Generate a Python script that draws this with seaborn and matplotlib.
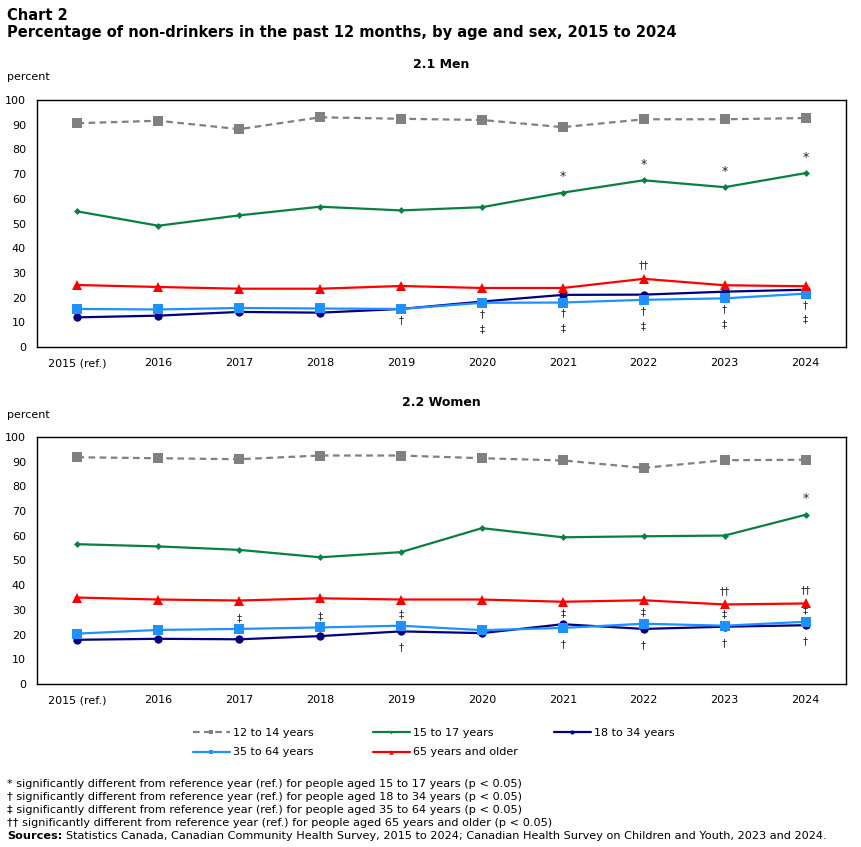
import numpy as np
import pandas as pd
import seaborn as sns
import matplotlib.pyplot as plt

# Years and tick labels
years = [2015, 2016, 2017, 2018, 2019, 2020, 2021, 2022, 2023, 2024]
year_labels = ["2015 (ref.)", "2016", "2017", "2018", "2019",
               "2020", "2021", "2022", "2023", "2024"]
series_names = ["12 to 14 years", "15 to 17 years", "18 to 34 years",
                "35 to 64 years", "65 years and older"]

# 2.1 Men (percent)
men_12_14 = [90.6, 91.6, 88.2, 93.0, 92.4, 91.9, 89.0, 92.2, 92.2, 92.7]
men_15_17 = [54.9, 49.1, 53.3, 56.8, 55.3, 56.6, 62.5, 67.5, 64.7, 70.4]
men_18_34 = [12.0, 12.7, 14.2, 13.9, 15.4, 18.4, 21.1, 21.2, 22.4, 23.2]
men_35_64 = [15.4, 15.2, 15.8, 15.6, 15.4, 17.9, 18.0, 19.1, 19.7, 21.6]
men_65_up = [25.1, 24.3, 23.6, 23.6, 24.7, 23.9, 23.9, 27.6, 25.0, 24.6]

# 2.2 Women (percent)
women_12_14 = [91.8, 91.4, 91.0, 92.5, 92.5, 91.4, 90.5, 87.5, 90.6, 90.8]
women_15_17 = [56.6, 55.7, 54.3, 51.3, 53.4, 63.1, 59.4, 59.8, 60.1, 68.5]
women_18_34 = [17.9, 18.3, 18.1, 19.4, 21.3, 20.6, 24.2, 22.3, 23.2, 23.8]
women_35_64 = [20.4, 21.9, 22.3, 22.9, 23.6, 21.8, 22.7, 24.4, 23.6, 25.2]
women_65_up = [35.0, 34.2, 33.8, 34.7, 34.2, 34.2, 33.3, 33.9, 32.2, 32.6]

# significance flags (years)
men_star = [2021, 2022, 2023, 2024]
men_dagger = [2019, 2020, 2021, 2022, 2023, 2024]
men_ddagger = [2020, 2021, 2022, 2023, 2024]
men_double = [2022]
women_star = [2024]
women_dagger = [2019, 2021, 2022, 2023, 2024]
women_ddagger = [2017, 2018, 2019, 2021, 2022, 2023, 2024]
women_double = [2023, 2024]

styles = {
    "12 to 14 years": dict(color="#808080", marker="s", markersize=6.5, linestyle=(0, (3, 2))),
    "15 to 17 years": dict(color="#0A8040", marker="D", markersize=3.5, linestyle="-"),
    "18 to 34 years": dict(color="#000080", marker="o", markersize=6, linestyle="-"),
    "35 to 64 years": dict(color="#1E90FF", marker="s", markersize=6.5, linestyle="-"),
    "65 years and older": dict(color="#FF0000", marker="^", markersize=6.5, linestyle="-"),
}

sns.set_style("white")
plt.rcParams["font.family"] = ["DejaVu Sans"]
plt.rcParams["text.color"] = "black"

W, H = 862, 847
fig = plt.figure(figsize=(W / 100, H / 100), dpi=100)


def fx(px):
    return px / W


def fy(py):
    return 1 - py / H


def draw_panel(ax, data, star, dagger, ddagger, double, dag_off, ddag_off):
    df = pd.DataFrame(data, index=years)
    for name in series_names:
        sns.lineplot(x=years, y=df[name].values, ax=ax, label=name,
                     linewidth=1.6, markeredgewidth=0, legend=False,
                     **styles[name])
    low = df[["18 to 34 years", "35 to 64 years"]]
    sym = dict(ha="center", va="center", fontsize=7.5, color="#2a2030")
    for y in star:
        ax.text(y, df.loc[y, "15 to 17 years"] + 6.5, "*", fontsize=9,
                ha="center", va="center", color="#2a2030")
    for y in double:
        ax.text(y, df.loc[y, "65 years and older"] + 5.5, "\u2020\u2020", **sym)
    for y in dagger:
        ax.text(y, low.loc[y].min() + dag_off, "\u2020", **sym)
    for y in ddagger:
        base = low.loc[y].min() if ddag_off < 0 else low.loc[y].max()
        ax.text(y, base + ddag_off, "\u2021", **sym)

    ax.set_xlim(2014.5, 2024.5)
    ax.set_ylim(0, 100)
    ax.set_xticks(years)
    ax.set_xticklabels(year_labels)
    ax.set_yticks(range(0, 101, 10))
    ax.tick_params(axis="both", direction="in", length=5, width=1,
                   labelsize=8, pad=8, colors="black")
    ax.tick_params(axis="x", pad=8)
    for s in ax.spines.values():
        s.set_color("black")
        s.set_linewidth(1)
    ax.set_xlabel("")
    ax.set_ylabel("")


ax1 = fig.add_axes([fx(37), fy(347), fx(846) - fx(37), fy(100) - fy(347)])
ax2 = fig.add_axes([fx(37), fy(684), fx(846) - fx(37), fy(437) - fy(684)])

men = dict(zip(series_names, [men_12_14, men_15_17, men_18_34, men_35_64, men_65_up]))
women = dict(zip(series_names, [women_12_14, women_15_17, women_18_34, women_35_64, women_65_up]))

draw_panel(ax1, men, men_star, men_dagger, men_ddagger, men_double, -4.5, -10.5)
draw_panel(ax2, women, women_star, women_dagger, women_ddagger, women_double, -6.5, 4.5)

# titles
fig.text(fx(7), fy(15), "Chart 2", fontsize=10.5, fontweight="bold", va="center")
fig.text(fx(7), fy(33), "Percentage of non-drinkers in the past 12 months, by age and sex, 2015 to 2024",
         fontsize=10.5, fontweight="bold", va="center")
fig.text(fx(441), fy(65), "2.1 Men", fontsize=9, fontweight="bold", ha="center", va="center")
fig.text(fx(7), fy(77), "percent", fontsize=8, va="center")
fig.text(fx(441), fy(402), "2.2 Women", fontsize=9, fontweight="bold", ha="center", va="center")
fig.text(fx(7), fy(415), "percent", fontsize=8, va="center")

# legend: three columns laid out on a fixed grid
handles, labels = ax1.get_legend_handles_labels()
hmap = dict(zip(labels, handles))
columns = [["12 to 14 years", "35 to 64 years"],
           ["15 to 17 years", "65 years and older"],
           ["18 to 34 years"]]
for col, x0 in zip(columns, [193, 373, 554]):
    fig.legend([hmap[n] for n in col], col, loc="upper left",
               bbox_to_anchor=(fx(x0), fy(728)), frameon=False,
               fontsize=8, handlelength=3.3, handletextpad=0.3,
               labelspacing=0.85, markerscale=0.5, borderaxespad=0,
               borderpad=0)

# footnotes
notes = [
    "* significantly different from reference year (ref.) for people aged 15 to 17 years (p < 0.05)",
    "\u2020 significantly different from reference year (ref.) for people aged 18 to 34 years (p < 0.05)",
    "\u2021 significantly different from reference year (ref.) for people aged 35 to 64 years (p < 0.05)",
    "\u2020\u2020 significantly different from reference year (ref.) for people aged 65 years and older (p < 0.05)",
]
note_size = 8.1
for i, line in enumerate(notes):
    fig.text(fx(7), fy(784 + i * 13), line, fontsize=note_size, va="center")
src = fig.text(fx(7), fy(836), "Sources:", fontsize=note_size, fontweight="bold", va="center")
fig.add_artist(plt.Annotation(
    "Statistics Canada, Canadian Community Health Survey, 2015 to 2024; "
    "Canadian Health Survey on Children and Youth, 2023 and 2024.",
    xy=(1, 0.5), xycoords=src, xytext=(3, 0), textcoords="offset points",
    fontsize=note_size, va="center", ha="left"))

fig.savefig("out.png", dpi=100)
